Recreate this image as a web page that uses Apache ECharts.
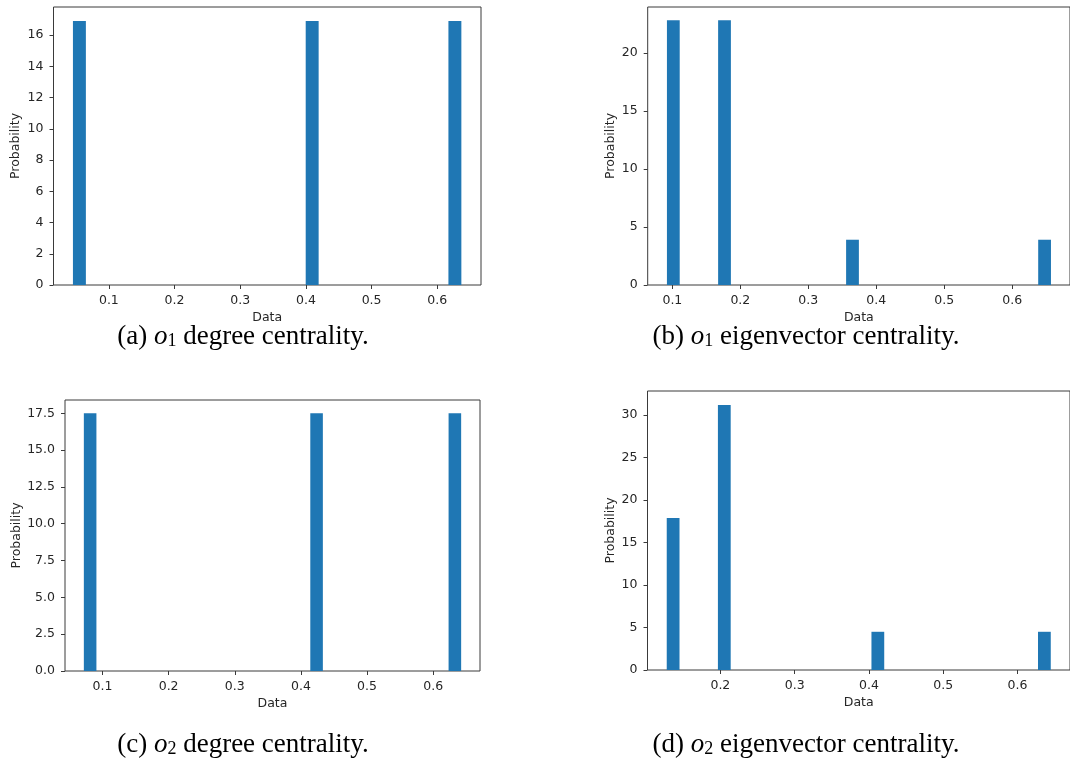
<!DOCTYPE html>
<html>
<head>
<meta charset="utf-8">
<script src="https://cdn.jsdelivr.net/npm/echarts@6/dist/echarts.min.js"></script>
<style>html,body{margin:0;padding:0;background:#fff;}#c{width:1070px;height:764px;}</style>
</head>
<body>
<div id="c"></div>
<script>
// ---- data ----
// each bar: [leftEdge, rightEdge, height]
const barsA = [[0.0453, 0.0650, 16.9], [0.3997, 0.4194, 16.9], [0.6170, 0.6367, 16.9]];
const barsB = [[0.0920, 0.1108, 22.8], [0.1673, 0.1861, 22.8], [0.3556, 0.3744, 3.9], [0.6382, 0.6570, 3.9]];
const barsC = [[0.0718, 0.0908, 17.5], [0.4142, 0.4332, 17.5], [0.6233, 0.6423, 17.5]];
const barsD = [[0.1278, 0.1450, 17.9], [0.1967, 0.2139, 31.2], [0.4034, 0.4206, 4.5], [0.6276, 0.6448, 4.5]];

const xTicksA = [0.1, 0.2, 0.3, 0.4, 0.5, 0.6];
const xTicksB = [0.1, 0.2, 0.3, 0.4, 0.5, 0.6];
const xTicksC = [0.1, 0.2, 0.3, 0.4, 0.5, 0.6];
const xTicksD = [0.2, 0.3, 0.4, 0.5, 0.6];
const yTicksA = [0, 2, 4, 6, 8, 10, 12, 14, 16];
const yTicksB = [0, 5, 10, 15, 20];
const yTicksC = [0, 2.5, 5, 7.5, 10, 12.5, 15, 17.5];
const yTicksD = [0, 5, 10, 15, 20, 25, 30];

const xRangeA = [0.0157, 0.6666], yRangeA = [0, 17.8];
const xRangeB = [0.0637, 0.6850], yRangeB = [0, 23.95];
const xRangeC = [0.0433, 0.6708], yRangeC = [0, 18.4];
const xRangeD = [0.1019, 0.6707], yRangeD = [0, 32.85];

const captions = [
  {lab: '(a) ', sub: '1', rest: ' degree centrality.'},
  {lab: '(b) ', sub: '1', rest: ' eigenvector centrality.'},
  {lab: '(c) ', sub: '2', rest: ' degree centrality.'},
  {lab: '(d) ', sub: '2', rest: ' eigenvector centrality.'}
];

// ---- layout ----
const panels = [
  {bars: barsA, xt: xTicksA, yt: yTicksA, xr: xRangeA, yr: yRangeA, grid: {left: 53.5, top: 7, width: 427.5, height: 278}, yGap: 31, xGap: 26, yfmt: v => String(v)},
  {bars: barsB, xt: xTicksB, yt: yTicksB, xr: xRangeB, yr: yRangeB, grid: {left: 647.7, top: 7, width: 428.7, height: 278}, yGap: 30, xGap: 26, yfmt: v => String(v)},
  {bars: barsC, xt: xTicksC, yt: yTicksC, xr: xRangeC, yr: yRangeC, grid: {left: 65, top: 400, width: 415, height: 271}, yGap: 42, xGap: 26, yfmt: v => v.toFixed(1)},
  {bars: barsD, xt: xTicksD, yt: yTicksD, xr: xRangeD, yr: yRangeD, grid: {left: 647.5, top: 391, width: 428, height: 279}, yGap: 30, xGap: 26, yfmt: v => String(v)}
];
const capPos = [[243, 337], [806, 337], [243, 745], [806, 745]];

const txt = '#262626';
const font = 'DejaVu Sans';
const grids = [], xAxes = [], yAxes = [], series = [];
panels.forEach((p, i) => {
  grids.push(Object.assign({show: true, borderColor: '#3a3a3a', borderWidth: 1, containLabel: false}, p.grid));
  xAxes.push({
    type: 'value', gridIndex: i, min: p.xr[0], max: p.xr[1],
    name: 'Data', nameLocation: 'middle', nameGap: p.xGap,
    nameTextStyle: {fontFamily: font, fontSize: 12.5, color: txt},
    axisLine: {show: false}, splitLine: {show: false},
    axisTick: {show: true, inside: false, length: 4, customValues: p.xt, lineStyle: {color: '#3a3a3a'}},
    axisLabel: {customValues: p.xt, margin: 9, fontFamily: font, fontSize: 12.5, color: txt, formatter: v => v.toFixed(1)}
  });
  yAxes.push({
    type: 'value', gridIndex: i, min: p.yr[0], max: p.yr[1],
    name: 'Probability', nameLocation: 'middle', nameGap: p.yGap, nameRotate: 90,
    nameTextStyle: {fontFamily: font, fontSize: 12.5, color: txt},
    axisLine: {show: false}, splitLine: {show: false},
    axisTick: {show: true, inside: false, length: 4, customValues: p.yt, lineStyle: {color: '#3a3a3a'}},
    axisLabel: {customValues: p.yt, margin: 10, fontFamily: font, fontSize: 12.5, color: txt, formatter: p.yfmt}
  });
  series.push({
    type: 'custom', xAxisIndex: i, yAxisIndex: i,
    data: p.bars,
    encode: {x: [0, 1], y: 2},
    renderItem: function (params, api) {
      const a = api.coord([api.value(0), 0]);
      const b = api.coord([api.value(1), api.value(2)]);
      return {type: 'rect', shape: {x: a[0], y: b[1], width: b[0] - a[0], height: a[1] - b[1]}, style: {fill: '#1f77b4'}};
    }
  });
});

const graphics = captions.map((c, i) => ({
  type: 'text', x: capPos[i][0], y: capPos[i][1],
  style: {
    text: '{n|' + c.lab + '}{i|o}{s|' + c.sub + '}{n|' + c.rest + '}',
    align: 'center', verticalAlign: 'middle',
    rich: {
      n: {fontFamily: 'Liberation Serif', fontSize: 27, fill: '#000'},
      i: {fontFamily: 'Liberation Serif', fontStyle: 'italic', fontSize: 27, fill: '#000'},
      s: {fontFamily: 'Liberation Serif', fontSize: 18, fill: '#000', padding: [9, 0, 0, 0]}
    }
  }
}));

const chart = echarts.init(document.getElementById('c'), null, {renderer: 'canvas'});
chart.setOption({
  animation: false,
  backgroundColor: '#fff',
  grid: grids, xAxis: xAxes, yAxis: yAxes, series: series,
  graphic: graphics
});
</script>
</body>
</html>
